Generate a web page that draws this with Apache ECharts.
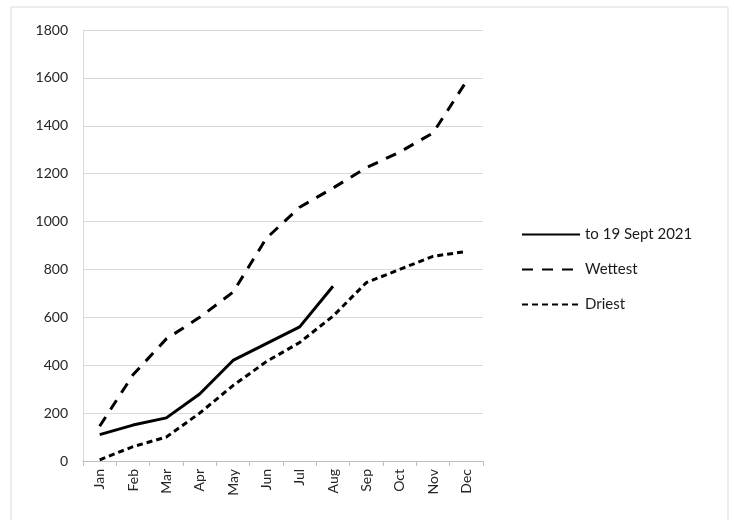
<!DOCTYPE html>
<html><head><meta charset="utf-8">
<script src="https://cdn.jsdelivr.net/npm/echarts@6/dist/echarts.min.js"></script>
<style>html,body{margin:0;padding:0;background:#fff}#c{width:734px;height:520px}</style>
</head><body><div id="c"></div>
<script>
var months = ['Jan','Feb','Mar','Apr','May','Jun','Jul','Aug','Sep','Oct','Nov','Dec'];
var current2021 = [110,150,180,280,420,490,560,730];
var wettest = [145,360,510,600,705,930,1060,1140,1225,1290,1370,1585];
var driest = [5,60,100,200,315,415,495,605,745,800,855,875];
var yTicks = {min:0, max:1800, interval:200};

var chart = echarts.init(document.getElementById('c'), null, {renderer:'canvas'});
var font = 'Lato, "Open Sans", sans-serif';
chart.setOption({
  animation:false,
  backgroundColor:'#fff',
  graphic:[{type:'rect', shape:{x:11,y:7,width:717,height:520}, style:{fill:'none', stroke:'#d9d9d9', lineWidth:1}}],
  grid:{left:83, right:251, top:30, bottom:59},
  legend:{
    orient:'vertical', left:516, top:222, itemWidth:58, itemHeight:14, itemGap:20,
    itemStyle:{opacity:0},
    textStyle:{fontFamily:font, fontSize:15, color:'#1a1a1a'},
    data:['to 19 Sept 2021','Wettest','Driest']
  },
  xAxis:{
    type:'category', data:months, boundaryGap:true,
    axisLine:{lineStyle:{color:'#bfbfbf'}},
    axisTick:{show:true, interval:0, length:5, lineStyle:{color:'#bfbfbf'}},
    axisLabel:{rotate:90, interval:0, fontFamily:font, fontSize:14, color:'#262626', margin:8}
  },
  yAxis:{
    type:'value', min:yTicks.min, max:yTicks.max, interval:yTicks.interval,
    axisLine:{show:true, lineStyle:{color:'#d9d9d9'}},
    axisTick:{show:false},
    splitLine:{lineStyle:{color:'#d9d9d9'}},
    axisLabel:{fontFamily:font, fontSize:14, color:'#262626', margin:15, formatter:function(v){return String(v);}}
  },
  series:[
    {name:'to 19 Sept 2021', type:'line', data:current2021, symbol:'none', lineStyle:{color:'#000', width:3, type:'solid'}, itemStyle:{color:'#000'}},
    {name:'Wettest', type:'line', data:wettest, symbol:'none', lineStyle:{color:'#000', width:3, type:[11,9]}, itemStyle:{color:'#000'}},
    {name:'Driest', type:'line', data:driest, symbol:'none', lineStyle:{color:'#000', width:3, type:[6,4]}, itemStyle:{color:'#000'}}
  ]
});
</script></body></html>
